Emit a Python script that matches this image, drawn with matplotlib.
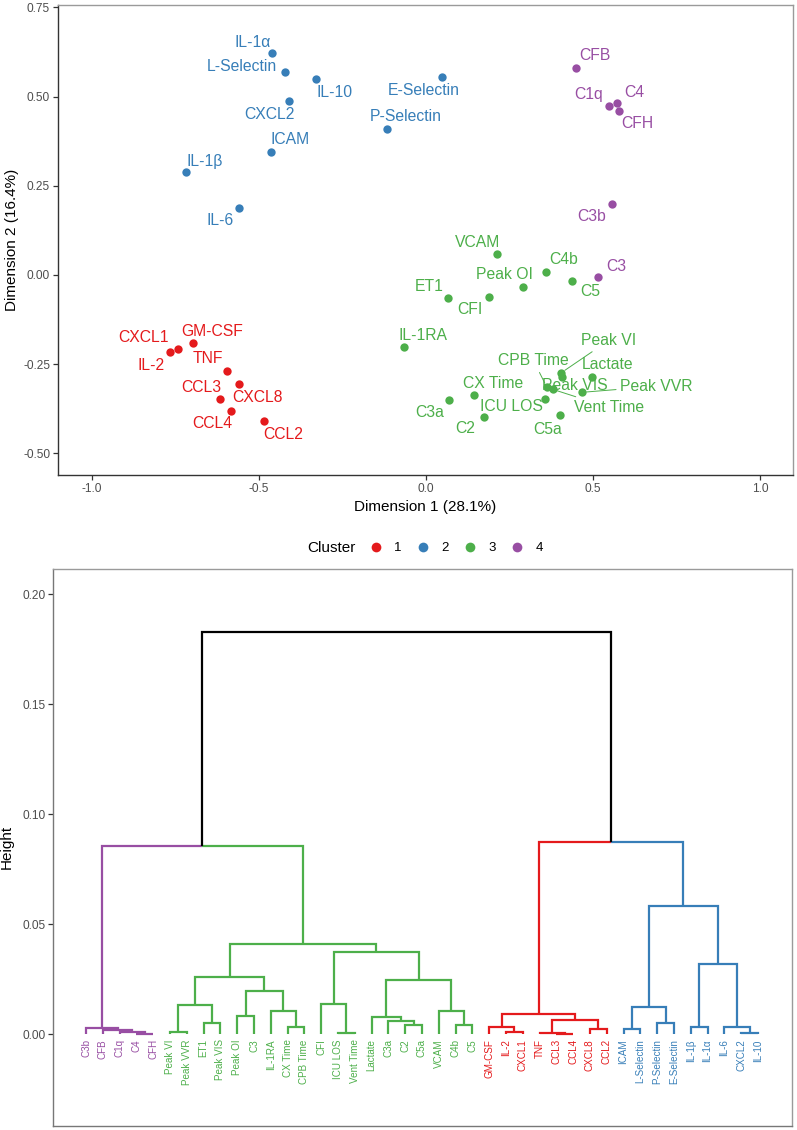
import matplotlib
matplotlib.use("Agg")
import matplotlib.pyplot as plt
from matplotlib.lines import Line2D
from matplotlib.ticker import FormatStrFormatter

plt.rcParams['font.family'] = ['Liberation Sans', 'DejaVu Sans']
plt.rcParams['axes.unicode_minus'] = False

# --- PCA-style scatter data ---
variables = ['IL-1α', 'L-Selectin', 'IL-10', 'CXCL2', 'ICAM', 'IL-1β', 'IL-6', 'P-Selectin', 'E-Selectin',
             'CFB', 'C1q', 'C4', 'CFH', 'C3b', 'C3',
             'VCAM', 'C4b', 'C5', 'Peak OI', 'ET1', 'CFI', 'IL-1RA', 'Peak VI', 'Peak VIS', 'Lactate',
             'CPB Time', 'Vent Time', 'Peak VVR', 'ICU LOS', 'C5a', 'CX Time', 'C3a', 'C2',
             'GM-CSF', 'CXCL1', 'IL-2', 'TNF', 'CXCL8', 'CCL3', 'CCL4', 'CCL2']
dim1 = [-0.462, -0.422, -0.330, -0.411, -0.463, -0.718, -0.559, -0.118, 0.048,
        0.448, 0.546, 0.571, 0.576, 0.556, 0.515,
        0.211, 0.359, 0.437, 0.290, 0.065, 0.189, -0.066, 0.405, 0.407, 0.497,
        0.361, 0.380, 0.468, 0.357, 0.401, 0.143, 0.069, 0.172,
        -0.696, -0.743, -0.766, -0.596, -0.561, -0.616, -0.584, -0.485]
dim2 = [0.621, 0.570, 0.549, 0.487, 0.345, 0.288, 0.187, 0.409, 0.554,
        0.581, 0.473, 0.483, 0.460, 0.199, -0.005,
        0.058, 0.007, -0.017, -0.033, -0.064, -0.063, -0.202, -0.274, -0.285, -0.285,
        -0.314, -0.321, -0.329, -0.347, -0.392, -0.336, -0.350, -0.398,
        -0.192, -0.207, -0.217, -0.269, -0.306, -0.349, -0.381, -0.410]
cluster = [2] * 9 + [4] * 6 + [3] * 18 + [1] * 8

# label offsets in pixels (dx, dy), and which labels get a leader line
label_offsets = {
    'IL-1α': (-19, 11), 'L-Selectin': (-43, 5), 'IL-10': (19, -13), 'CXCL2': (-19, -13),
    'ICAM': (19, 12), 'IL-1β': (19, 11), 'IL-6': (-19, -12), 'P-Selectin': (19, 12),
    'E-Selectin': (-18, -13), 'CFB': (19, 12), 'C1q': (-20, 12), 'C4': (17, 10),
    'CFH': (19, -13), 'C3b': (-20, -13), 'C3': (18, 10), 'VCAM': (-19, 12),
    'C4b': (18, 13), 'C5': (18, -11), 'Peak OI': (-19, 12), 'ET1': (-19, 11),
    'CFI': (-19, -12), 'IL-1RA': (19, 11), 'Peak VI': (47, 32), 'Peak VIS': (13, -9),
    'Lactate': (15, 12), 'CPB Time': (-13, 26), 'Vent Time': (56, -18), 'Peak VVR': (74, 6),
    'ICU LOS': (-34, -8), 'C5a': (-12, -15), 'CX Time': (19, 11), 'C3a': (-19, -13),
    'C2': (-18, -12), 'GM-CSF': (19, 12), 'CXCL1': (-34, 11), 'IL-2': (-19, -13),
    'TNF': (-19, 12), 'CXCL8': (19, -13), 'CCL3': (-19, 12), 'CCL4': (-19, -13),
    'CCL2': (19, -13),
}
leader = ['Peak VI', 'CPB Time', 'Vent Time', 'Peak VVR']

# --- dendrogram data ---
leaf_order = ['C3b', 'CFB', 'C1q', 'C4', 'CFH',
              'Peak VI', 'Peak VVR', 'ET1', 'Peak VIS', 'Peak OI', 'C3', 'IL-1RA', 'CX Time',
              'CPB Time', 'CFI', 'ICU LOS', 'Vent Time', 'Lactate', 'C3a', 'C2', 'C5a', 'VCAM',
              'C4b', 'C5',
              'GM-CSF', 'IL-2', 'CXCL1', 'TNF', 'CCL3', 'CCL4', 'CXCL8', 'CCL2',
              'ICAM', 'L-Selectin', 'P-Selectin', 'E-Selectin', 'IL-1β', 'IL-1α', 'IL-6',
              'CXCL2', 'IL-10']
leaf_cluster = [4] * 5 + [3] * 19 + [1] * 8 + [2] * 9

# (left child, right child, height); ints refer to earlier merges
merges = [
    ('C4', 'CFH', 0.0003), ('C1q', 0, 0.0011), ('CFB', 1, 0.0019), ('C3b', 2, 0.0027),
    ('Peak VI', 'Peak VVR', 0.0012), ('ET1', 'Peak VIS', 0.0053), (4, 5, 0.0133),
    ('Peak OI', 'C3', 0.0083), ('CX Time', 'CPB Time', 0.0035), ('IL-1RA', 8, 0.0106),
    (7, 9, 0.0198), (6, 10, 0.0262), ('ICU LOS', 'Vent Time', 0.0007), ('CFI', 12, 0.0138),
    ('C2', 'C5a', 0.0042), ('C3a', 14, 0.0062), ('Lactate', 15, 0.0078), ('C4b', 'C5', 0.0042),
    ('VCAM', 17, 0.0105), (16, 18, 0.0247), (13, 19, 0.0375), (11, 20, 0.0409),
    (3, 21, 0.0856),
    ('IL-2', 'CXCL1', 0.0009), ('GM-CSF', 23, 0.0032), ('CCL3', 'CCL4', 0.0002),
    ('TNF', 25, 0.0004), ('CXCL8', 'CCL2', 0.0024), (26, 27, 0.0067), (24, 28, 0.0092),
    ('ICAM', 'L-Selectin', 0.0023), ('P-Selectin', 'E-Selectin', 0.0053), (30, 31, 0.0122),
    ('IL-1β', 'IL-1α', 0.0032), ('CXCL2', 'IL-10', 0.0005), ('IL-6', 34, 0.0035),
    (33, 35, 0.0318), (32, 36, 0.0585), (29, 37, 0.0873),
    (22, 38, 0.1827),
]

colors = {1: '#E41A1C', 2: '#377EB8', 3: '#4DAF4A', 4: '#984EA3'}
tick_color = '#4D4D4D'


def style_axes(ax):
    for side in ['top', 'right']:
        ax.spines[side].set_color('#9A9A9A')
    for side in ['left', 'bottom']:
        ax.spines[side].set_color('#333333')
    for s in ax.spines.values():
        s.set_linewidth(1.0)
    ax.tick_params(direction='out', length=3.5, width=0.9, color='#333333',
                   labelsize=8.6, labelcolor=tick_color, pad=2)


fig = plt.figure(figsize=(7.97, 11.30), dpi=100)
W, H = 797, 1130

# ---------------- scatter ----------------
ax1 = fig.add_axes([57.7 / W, 1 - 475 / H, (792.7 - 57.7) / W, (475 - 5) / H])
for name, x, y, c in zip(variables, dim1, dim2, cluster):
    ax1.scatter(x, y, s=36, color=colors[c], zorder=3, linewidths=0)
    dx, dy = label_offsets[name]
    arrow = None
    if name in leader:
        arrow = dict(arrowstyle='-', color=colors[c], lw=0.7, shrinkA=1, shrinkB=3)
    ax1.annotate(name, (x, y), xytext=(dx, dy), textcoords='offset pixels',
                 ha='center', va='center', fontsize=11.3, color=colors[c],
                 arrowprops=arrow, zorder=4)
ax1.set_xlim(-1.102, 1.097)
ax1.set_ylim(-0.5608, 0.7565)
ax1.set_xticks([-1.0, -0.5, 0.0, 0.5, 1.0])
ax1.set_yticks([-0.50, -0.25, 0.00, 0.25, 0.50, 0.75])
ax1.xaxis.set_major_formatter(FormatStrFormatter('%.1f'))
ax1.yaxis.set_major_formatter(FormatStrFormatter('%.2f'))
style_axes(ax1)
ax1.set_xlabel('Dimension 1 (28.1%)', fontsize=11, labelpad=4)
ax1.set_ylabel('Dimension 2 (16.4%)', fontsize=11, labelpad=3)

# ---------------- legend ----------------
ly = 1 - 548 / H
fig.text(331 / W, ly, 'Cluster', fontsize=11, ha='center', va='center')
handles = [Line2D([], [], marker='o', linestyle='', markersize=7, color=colors[k],
                  markeredgewidth=0) for k in [1, 2, 3, 4]]
fig.legend(handles, ['1', '2', '3', '4'], ncol=4, loc='center',
           bbox_to_anchor=(456 / W, ly), frameon=False, fontsize=9.5,
           handletextpad=0.9, columnspacing=1.1, handlelength=1.0)

# ---------------- dendrogram ----------------
ax2 = fig.add_axes([53.3 / W, 1 - 1125.7 / H, (791.7 - 53.3) / W, (1125.7 - 569) / H])

pos = {name: (i + 1, 0.0, leaf_cluster[i]) for i, name in enumerate(leaf_order)}


def node(ref):
    return pos[ref] if isinstance(ref, str) else pos[('m', ref)]


for k, (a, b, h) in enumerate(merges):
    xa, ha, ca = node(a)
    xb, hb, cb = node(b)
    xm = (xa + xb) / 2
    for xc, hc, cc in [(xa, ha, ca), (xb, hb, cb)]:
        col = colors[cc] if cc is not None else 'black'
        ax2.plot([xc, xc, xm], [hc, h, h], color=col, lw=1.6,
                 solid_joinstyle='miter', solid_capstyle='butt')
    pos[('m', k)] = (xm, h, ca if ca == cb else None)

for i, name in enumerate(leaf_order):
    ax2.annotate(name, (i + 1, 0), xytext=(0, -5), textcoords='offset pixels',
                 rotation=90, ha='center', va='top', fontsize=7.1,
                 color=colors[leaf_cluster[i]])

ax2.set_xlim(-0.948, 43.01)
ax2.set_ylim(-0.0415, 0.2114)
ax2.set_xticks([])
ax2.set_yticks([0.00, 0.05, 0.10, 0.15, 0.20])
ax2.yaxis.set_major_formatter(FormatStrFormatter('%.2f'))
style_axes(ax2)
ax2.spines['left'].set_color('#777777')
ax2.spines['bottom'].set_color('#777777')
ax2.set_ylabel('Height', fontsize=11, labelpad=6)

fig.savefig('out.png', dpi=100)
